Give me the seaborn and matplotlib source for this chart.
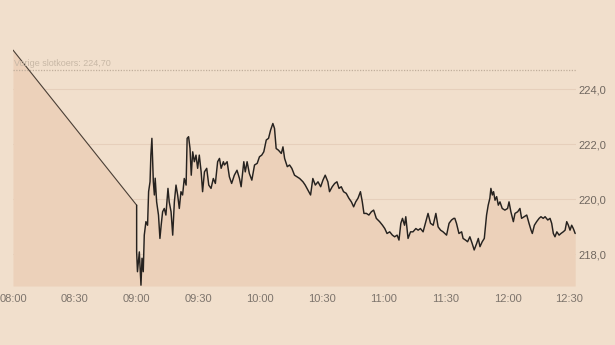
import matplotlib
matplotlib.use("Agg")
import matplotlib.pyplot as plt
import seaborn as sns
import numpy as np
import pandas as pd

# minutes after 08:00
minutes = [0, 60.0, 60.0, 60.4, 61.3, 62.1, 62.6, 63.2, 63.7, 64.5, 65.3, 65.8, 66.5, 66.9, 67.4,
           68.1, 68.6, 69.0, 69.7, 70.6, 71.3, 71.9, 72.6, 73.4, 74.2, 75.2, 75.8, 76.7, 77.5,
           78.3, 79.1, 79.9, 80.7, 81.5, 82.3, 83.1, 84.0, 84.5, 85.2, 85.9, 86.5, 87.2, 88.0,
           88.8, 89.6, 90.4, 91.3, 92.0, 92.9, 94.0, 95.0, 96.1, 97.2, 98.2, 99.3, 100.2, 101.0,
           102.1, 102.6, 103.9, 105.0, 106.1, 107.4, 108.7, 109.9, 110.7, 112.0, 112.7, 113.6,
           114.7, 115.9, 117.2, 118.5, 119.6, 120.7, 121.7, 122.9, 124.0, 125.0, 126.1, 126.9,
           127.7, 128.8, 130.2, 131.0, 131.8, 133.1, 134.2, 135.3, 136.6, 137.9, 139.1, 140.7,
           141.8, 143.1, 144.4, 145.5, 146.7, 148.0, 149.3, 150.4, 151.5, 152.8, 153.6, 154.9,
           156.1, 157.2, 158.2, 159.3, 160.4, 161.7, 163.0, 164.2, 165.3, 166.3, 167.4, 168.6,
           169.5, 170.3, 171.5, 172.7, 173.9, 175.0, 176.3, 177.9, 179.3, 180.4, 181.5, 182.8,
           184.1, 185.2, 186.4, 187.3, 188.2, 189.0, 190.0, 190.6, 191.7, 192.9, 194.1, 195.5,
           196.6, 197.7, 199.0, 200.3, 201.4, 202.6, 203.9, 205.2, 206.3, 207.5, 208.7, 210.4,
           211.6, 212.8, 213.9, 214.4, 215.2, 216.4, 217.7, 218.4, 219.6, 220.6, 221.7, 222.8,
           223.8, 225.0, 225.8, 226.6, 227.7, 228.7, 229.8, 230.6, 231.4, 231.9, 232.6, 233.2,
           233.9, 234.7, 235.5, 236.3, 237.4, 238.7, 240.0, 240.7, 241.6, 242.8, 243.6, 244.9,
           246.0, 246.8, 248.1, 249.3, 250.4, 251.4, 252.0, 253.0, 254.1, 255.3, 256.2, 257.3,
           258.2, 259.5, 260.6, 261.4, 262.2, 263.0, 263.9, 265.0, 265.9, 267.0, 267.9, 268.7,
           269.5, 270.3, 271.1, 271.9, 272.8]

prices = [225.42, 219.78, 218.08, 217.36, 218.08, 216.87, 217.85, 217.36, 218.69, 219.18, 219.05,
          220.27, 220.63, 221.60, 222.21, 220.63, 220.15, 220.76, 219.90, 219.42, 218.57, 219.05,
          219.54, 219.66, 219.42, 220.39, 219.90, 219.54, 218.69, 219.90, 220.51, 220.15, 219.66,
          220.27, 220.15, 220.75, 220.51, 222.21, 222.27, 221.84, 220.87, 221.72, 221.36, 221.60,
          221.12, 221.60, 220.99, 220.27, 220.99, 221.12, 220.51, 220.39, 220.75, 220.57, 221.36,
          221.48, 221.12, 221.36, 221.24, 221.36, 220.81, 220.57, 220.87, 221.05, 220.75, 220.45,
          221.36, 220.99, 221.36, 220.93, 220.69, 221.24, 221.30, 221.54, 221.60, 221.72, 222.15,
          222.21, 222.51, 222.75, 222.57, 221.84, 221.78, 221.66, 221.90, 221.48, 221.18, 221.24,
          221.12, 220.87, 220.81, 220.75, 220.63, 220.51, 220.33, 220.15, 220.75, 220.51, 220.63,
          220.45, 220.69, 220.87, 220.63, 220.27, 220.45, 220.57, 220.63, 220.39, 220.45, 220.27,
          220.21, 220.03, 219.90, 219.72, 219.90, 220.03, 220.27, 219.90, 219.48, 219.48, 219.42,
          219.54, 219.60, 219.30, 219.18, 219.05, 218.93, 218.75, 218.81, 218.69, 218.63, 218.69,
          218.51, 219.12, 219.30, 219.05, 219.36, 218.57, 218.81, 218.81, 218.93, 218.87, 218.93,
          218.81, 219.18, 219.48, 219.12, 219.05, 219.48, 218.99, 218.87, 218.81, 218.69, 219.12,
          219.24, 219.30, 219.30, 219.12, 218.75, 218.81, 218.57, 218.51, 218.45, 218.63, 218.39,
          218.15, 218.39, 218.57, 218.27, 218.45, 218.57, 219.42, 219.78, 220.03, 220.39, 220.15,
          220.27, 219.96, 220.09, 219.78, 219.90, 219.66, 219.60, 219.66, 219.90, 219.54, 219.18,
          219.48, 219.54, 219.66, 219.30, 219.36, 219.42, 219.12, 218.87, 218.75, 219.05, 219.18,
          219.30, 219.36, 219.30, 219.36, 219.24, 219.30, 219.12, 218.75, 218.63, 218.81, 218.69,
          218.75, 218.81, 218.87, 219.18, 219.05, 218.87, 219.05, 218.93, 218.75]

tick_minutes = [0, 30, 60, 90, 120, 150, 180, 210, 240, 270]
tick_labels = ["08:00", "08:30", "09:00", "09:30", "10:00", "10:30", "11:00", "11:30", "12:00", "12:30"]
y_ticks = [218.0, 220.0, 222.0, 224.0]
y_labels = ["218,0", "220,0", "222,0", "224,0"]
prev_close = 224.70
prev_close_label = "Vorige slotkoers: 224,70"

BG = "#f1dfcc"
FILL = "#ecd1ba"

sns.set_theme(style="white")
plt.rcParams["font.family"] = ["Liberation Sans Narrow", "Liberation Sans", "DejaVu Sans"]

df = pd.DataFrame({"minute": minutes, "price": prices})
df_gap = df.iloc[:2]      # pre-open connector 08:00 -> 09:00
df_trade = df.iloc[1:]

fig = plt.figure(figsize=(6.15, 3.45), dpi=100, facecolor=BG)
ax = fig.add_axes([13 / 615, 1 - 286 / 345, (576 - 13) / 615, (286 - 30) / 345])
ax.set_facecolor(BG)

ylo, yhi = 216.84, 226.15
ax.set_ylim(ylo, yhi)
ax.set_xlim(0, 273.2)

for yv in y_ticks:
    ax.axhline(yv, color="#e6cfbb", lw=0.8, zorder=1)

ax.fill_between(df["minute"], df["price"], ylo, color=FILL, lw=0, zorder=2)
sns.lineplot(data=df_gap, x="minute", y="price", ax=ax, color="#4a3f36", lw=0.8,
             zorder=3, estimator=None, sort=False)
sns.lineplot(data=df_trade, x="minute", y="price", ax=ax, color="#26221f", lw=1.05,
             zorder=3, estimator=None, sort=False)

ax.axhline(prev_close, color="#c0ae9c", lw=0.9, ls=(0, (1, 1.2)), zorder=2.5)
ax.text(0.5, prev_close + 0.07, prev_close_label, fontsize=6.5, color="#c8b8a6",
        ha="left", va="bottom", zorder=4)

ax.set_xticks(tick_minutes)
ax.set_xticklabels(tick_labels)
ax.set_yticks(y_ticks)
ax.set_yticklabels(y_labels)
ax.yaxis.tick_right()
ax.tick_params(axis="x", length=0, pad=6, labelsize=8, labelcolor="#7d746c")
ax.tick_params(axis="y", length=0, pad=2, labelsize=8, labelcolor="#70675f")
ax.set_xlabel("")
ax.set_ylabel("")
for s in ax.spines.values():
    s.set_visible(False)

fig.savefig("out.png", dpi=100, facecolor=BG)
